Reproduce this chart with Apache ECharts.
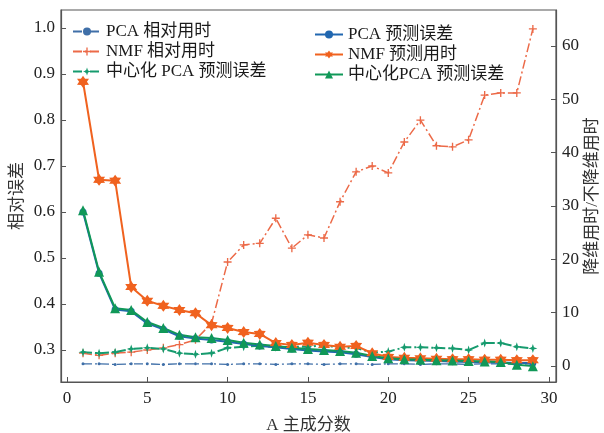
<!DOCTYPE html>
<html><head><meta charset="utf-8">
<script src="https://cdn.jsdelivr.net/npm/echarts@6/dist/echarts.min.js"></script>
<style>html,body{margin:0;padding:0;background:#fff}#c{width:604px;height:433px}</style>
</head><body><div id="c"></div>
<script>
const ks = [1,2,3,4,5,6,7,8,9,10,11,12,13,14,15,16,17,18,19,20,21,22,23,24,25,26,27,28,29];
const xTicks = [0,5,10,15,20,25,30];
const leftTicks = [0.3,0.4,0.5,0.6,0.7,0.8,0.9,1.0];
const rightTicks = [0,10,20,30,40,50,60];
// right axis (relative time)
const pcaTime = [0.4,0.4,0.3,0.4,0.4,0.3,0.4,0.4,0.4,0.3,0.4,0.4,0.3,0.4,0.4,0.3,0.4,0.4,0.3,0.4,0.4,0.3,0.4,0.4,0.3,0.4,0.4,0.3,0.4];
const nmfTime = [2.4,2.0,2.4,2.6,3.0,3.4,4.0,4.9,8.0,19.5,22.7,23.0,27.7,22.1,24.6,24.0,30.8,36.4,37.5,36.2,42.0,46.1,41.3,41.1,42.4,50.8,51.2,51.2,63.2];
const cpcaTime = [2.6,2.4,2.6,3.2,3.4,3.2,2.4,2.2,2.4,3.4,3.6,3.8,3.5,3.6,3.6,3.9,3.4,3.4,2.5,2.7,3.5,3.5,3.4,3.3,3.0,4.3,4.3,3.6,3.3];
// left axis (relative error)
const pcaErr = [0.600,0.467,0.388,0.384,0.358,0.345,0.330,0.325,0.322,0.318,0.313,0.309,0.306,0.302,0.299,0.297,0.295,0.291,0.285,0.280,0.278,0.277,0.276,0.275,0.274,0.273,0.273,0.272,0.272];
const nmfErr = [0.883,0.670,0.668,0.437,0.407,0.396,0.387,0.380,0.354,0.348,0.339,0.335,0.315,0.311,0.316,0.311,0.307,0.309,0.293,0.285,0.283,0.282,0.281,0.280,0.280,0.279,0.279,0.278,0.278];
const cpcaErr = [0.604,0.470,0.391,0.387,0.361,0.348,0.333,0.328,0.326,0.322,0.316,0.312,0.309,0.305,0.302,0.300,0.298,0.294,0.287,0.282,0.280,0.279,0.278,0.277,0.276,0.275,0.274,0.268,0.265];

const names = ['PCA 相对用时','NMF 相对用时','中心化 PCA 预测误差','PCA 预测误差','NMF 预测用时','中心化PCA 预测误差'];
const FF = "'Liberation Serif','Noto Sans CJK SC',serif";
const pair = a => a.map((v,i)=>[ks[i],v]);
const dashDot = [9,3,2,3];

function mk(name, data, yi, color, sym, size, ltype, lw){
  return {name, type:'line', yAxisIndex:yi, data:pair(data), symbol:sym, symbolSize:size,
    itemStyle:{color}, lineStyle:{color, width:lw, type:ltype}, z: yi===0?3:2, animation:false};
}

const chart = echarts.init(document.getElementById('c'));
chart.setOption({
  animation:false,
  backgroundColor:'#fff',
  grid:{left:61,right:48,top:10,bottom:51,show:true,borderColor:'#555',borderWidth:1.2,backgroundColor:'transparent',
        outerBoundsMode:'none', containLabel:false},
  legend:[
    {data:names.slice(0,3), left:67, top:18, orient:'vertical', itemGap:3, itemWidth:28, itemHeight:10,
     textStyle:{fontFamily:FF,fontSize:17,color:'#1a1a1a'}},
    {data:names.slice(3), left:309, top:21, orient:'vertical', itemGap:3, itemWidth:28, itemHeight:10,
     textStyle:{fontFamily:FF,fontSize:17,color:'#1a1a1a'}}
  ],
  xAxis:{type:'value', min:-0.37, max:30.44, name:'A 主成分数', nameLocation:'middle', nameGap:35, nameMoveOverlap:false,
    nameTextStyle:{fontFamily:FF,fontSize:17,color:'#333'},
    axisLine:{onZero:false,lineStyle:{color:'#555',width:1.2}},
    axisTick:{inside:true,length:5,customValues:xTicks,lineStyle:{color:'#555'}},
    axisLabel:{customValues:xTicks,fontFamily:FF,fontSize:17,color:'#222',margin:8},
    splitLine:{show:false}},
  yAxis:[
    {type:'value', min:0.2305, max:1.039, position:'left', name:'相对误差', nameLocation:'middle', nameGap:35, nameRotate:90,
     nameMoveOverlap:false,
     nameTextStyle:{fontFamily:FF,fontSize:17,color:'#333'},
     axisLine:{show:true,onZero:false,lineStyle:{color:'#555',width:1.2}},
     axisTick:{show:true,inside:true,length:5,customValues:leftTicks,lineStyle:{color:'#555'}},
     axisLabel:{customValues:leftTicks,formatter:v=>v.toFixed(1),fontFamily:FF,fontSize:17,color:'#222',margin:6},
     splitLine:{show:false}},
    {type:'value', min:-3.0, max:66.75, position:'right', name:'降维用时/不降维用时', nameLocation:'middle', nameGap:28, nameRotate:90,
     nameMoveOverlap:false,
     nameTextStyle:{fontFamily:FF,fontSize:17,color:'#333'},
     axisLine:{show:true,onZero:false,lineStyle:{color:'#555',width:1.2}},
     axisTick:{show:true,inside:true,length:5,customValues:rightTicks,lineStyle:{color:'#555'}},
     axisLabel:{customValues:rightTicks,fontFamily:FF,fontSize:17,color:'#222',margin:6},
     splitLine:{show:false}}
  ],
  series:[
    mk(names[0], pcaTime, 1, '#3f6fa8', 'circle', 3, dashDot, 1.3),
    mk(names[1], nmfTime, 1, '#ec6a48', 'path://M-1,-6H1V-1H6V1H1V6H-1V1H-6V-1H-1Z', 8, dashDot, 1.5),
    mk(names[2], cpcaTime, 1, '#169b6e', 'path://M0,-6L1.5,-1.5L6,0L1.5,1.5L0,6L-1.5,1.5L-6,0L-1.5,-1.5Z', 9, dashDot, 2),
    mk(names[3], pcaErr, 0, '#2167b0', 'circle', 7, 'solid', 2),
    mk(names[4], nmfErr, 0, '#f0621f', 'path://M0,-6L1.8,-3.1L5.2,-3L3.4,0L5.2,3L1.8,3.1L0,6L-1.8,3.1L-5.2,3L-3.4,0L-5.2,-3L-1.8,-3.1Z', 12, 'solid', 2),
    mk(names[5], cpcaErr, 0, '#109858', 'triangle', 10, 'solid', 2)
  ]
});
</script></body></html>
